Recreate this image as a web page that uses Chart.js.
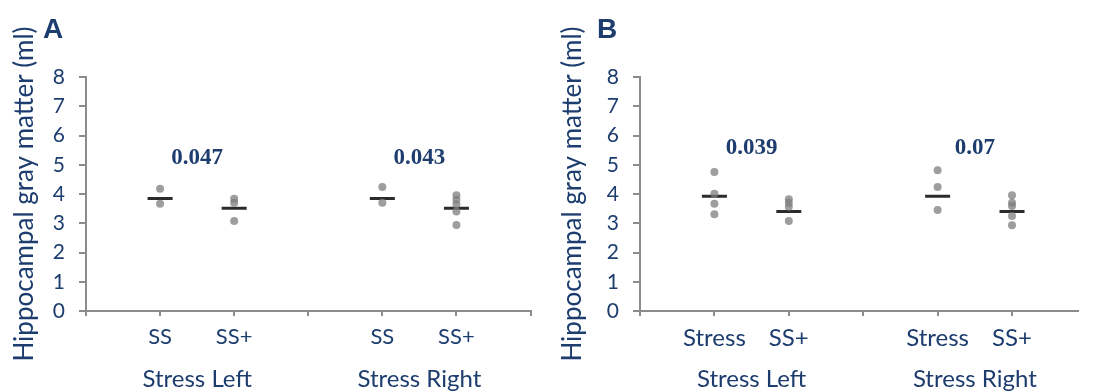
<!DOCTYPE html>
<html>
<head>
<meta charset="utf-8">
<script src="https://cdn.jsdelivr.net/npm/chart.js@4.4.1/dist/chart.umd.min.js"></script>
<style>
  html, body { margin: 0; padding: 0; background: #fff; }
  #wrap { position: relative; width: 1093px; height: 391px; overflow: hidden; }
  .panel { position: absolute; top: 0; height: 391px; }
  .tag { position: absolute; top: 13px; font: bold 28px "Liberation Sans", sans-serif; line-height: 1.15; color: #1c3d6e; }
</style>
</head>
<body>
<div id="wrap">
  <div class="panel" style="left:0;width:546px"><canvas id="chartA"></canvas></div>
  <div class="panel" style="left:546px;width:547px"><canvas id="chartB"></canvas></div>
  <div class="tag" style="left:43px">A</div>
  <div class="tag" style="left:597px">B</div>
</div>
<script>
// category positions on the x scale (3 is the empty gap between groups)
const catPos = [1, 2, 4, 5];
const groupPos = [1.5, 4.5];
const groupLabels = ['Stress Left', 'Stress Right'];
const yTicks = [0, 1, 2, 3, 4, 5, 6, 7, 8];

// Panel A
const catLabelsA = ['SS', 'SS+', 'SS', 'SS+'];
const dotsA = [
    [4.18, 3.67],
    [3.84, 3.7, 3.08],
    [4.24, 3.7],
    [3.96, 3.8, 3.65, 3.4, 2.94]
];
const medianA = [3.85, 3.51, 3.85, 3.51];
const pValuesA = ['0.047', '0.043'];
const pLevelA = 5.23;

// Panel B
const catLabelsB = ['Stress', 'SS+', 'Stress', 'SS+'];
const dotsB = [
    [4.75, 4.01, 3.67, 3.31],
    [3.82, 3.7, 3.56, 3.08],
    [4.81, 4.24, 3.45],
    [3.96, 3.7, 3.59, 3.25, 2.93]
];
const medianB = [3.92, 3.4, 3.92, 3.4];
const pValuesB = ['0.039', '0.07'];
const pLevelB = 5.57;

const navy = '#1c3d6e';
const axisGrey = '#8c8c8c';

// draws the p-values above each group
const pValuePlugin = {
    id: 'pValues',
    afterDatasetsDraw(chart, args, opts) {
        const { ctx, scales } = chart;
        ctx.save();
        ctx.font = 'bold 23px "Liberation Serif"';
        ctx.fillStyle = navy;
        ctx.textAlign = 'center';
        ctx.textBaseline = 'middle';
        opts.labels.forEach((txt, i) => {
            ctx.fillText(txt, scales.x.getPixelForValue(groupPos[i]), scales.y.getPixelForValue(opts.level));
        });
        ctx.restore();
    }
};

function makeChart(id, catLabels, dots, medians, pValues, pLevel, cfg) {
    const dotData = [];
    dots.forEach((arr, i) => arr.forEach(v => dotData.push({ x: catPos[i], y: v })));
    const medData = medians.map((v, i) => ({ x: catPos[i], y: v }));

    return new Chart(document.getElementById(id), {
        type: 'scatter',
        data: {
            datasets: [
                {
                    data: dotData,
                    pointRadius: 4,
                    backgroundColor: 'rgba(125,125,125,0.75)',
                    borderWidth: 0
                },
                {
                    data: medData,
                    pointStyle: 'line',
                    pointRadius: 12.5,
                    borderColor: '#2b2b2b',
                    borderWidth: 3
                }
            ]
        },
        plugins: [pValuePlugin],
        options: {
            responsive: true,
            maintainAspectRatio: false,
            animation: false,
            events: [],
            layout: { padding: { left: 0, right: cfg.padRight, top: 77, bottom: 0 } },
            plugins: {
                legend: { display: false },
                tooltip: { enabled: false },
                pValues: { labels: pValues, level: pLevel }
            },
            scales: {
                x: {
                    type: 'linear',
                    min: 0,
                    max: cfg.xMax,
                    afterBuildTicks: axis => {
                        axis.ticks = [0, 1, 2, 3, 4, 5, 6].filter(v => v <= axis.max).map(v => ({ value: v }));
                    },
                    afterFit: axis => { axis.height = 40; },
                    border: { color: axisGrey, width: 2 },
                    grid: { drawOnChartArea: false, drawTicks: true, tickLength: 5, color: axisGrey, lineWidth: 2 },
                    ticks: {
                        color: navy,
                        font: { family: 'Lato', size: cfg.catSize },
                        padding: 8,
                        maxRotation: 0,
                        autoSkip: false,
                        callback: v => {
                            const idx = catPos.indexOf(v);
                            return idx >= 0 ? catLabels[idx] : '';
                        }
                    }
                },
                xg: {
                    type: 'linear',
                    position: 'bottom',
                    weight: 1,
                    min: 0,
                    max: cfg.xMax,
                    afterBuildTicks: axis => {
                        axis.ticks = groupPos.map(v => ({ value: v }));
                    },
                    afterFit: axis => { axis.height = 40; },
                    border: { display: false },
                    grid: { display: false, drawTicks: false },
                    ticks: {
                        color: navy,
                        font: { family: 'Lato', size: 24 },
                        padding: 14,
                        maxRotation: 0,
                        autoSkip: false,
                        callback: v => groupLabels[groupPos.indexOf(v)]
                    }
                },
                y: {
                    min: 0,
                    max: 8,
                    afterBuildTicks: axis => {
                        axis.ticks = yTicks.map(v => ({ value: v }));
                    },
                    afterFit: axis => { axis.width = cfg.yWidth; },
                    border: { color: axisGrey, width: 2 },
                    grid: { drawOnChartArea: false, drawTicks: true, tickLength: 7, color: axisGrey, lineWidth: 2 },
                    ticks: { color: navy, font: { family: 'Lato', size: 21 }, padding: 14 },
                    title: {
                        display: true,
                        text: 'Hippocampal gray matter (ml)',
                        color: navy,
                        font: { family: 'Lato', size: 26 },
                        padding: { top: cfg.titlePad, bottom: 0 }
                    }
                }
            }
        }
    });
}

document.addEventListener('DOMContentLoaded', () => {
    makeChart('chartA', catLabelsA, dotsA, medianA, pValuesA, pLevelA,
        { xMax: 6, padRight: 11, yWidth: 86, titlePad: 9, catSize: 22 });
    makeChart('chartB', catLabelsB, dotsB, medianB, pValuesB, pLevelB,
        { xMax: 5.88, padRight: 0, yWidth: 94, titlePad: 11, catSize: 24 });
});
</script>
</body>
</html>
